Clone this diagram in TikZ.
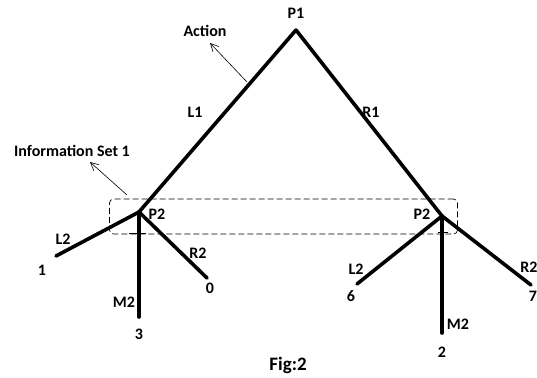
\documentclass[tikz,border=0pt]{standalone}
\usepackage{fontspec}
\setmainfont{Carlito}
\usetikzlibrary{arrows.meta}
\begin{document}
\begin{tikzpicture}[x=1pt,y=-1pt,
  branch/.style={line width=3.6pt,line cap=round,line join=miter},
  lbl/.style={font=\fontsize{16}{18}\selectfont\bfseries,inner sep=0pt},
  pointer/.style={line width=0.6pt,-{Straight Barb[length=8pt,width=8pt]}},
  infobox/.style={dashed,line width=0.7pt,rounded corners=4pt,dash pattern=on 6pt off 3pt},
  tick/.style={line width=0.8pt}]
\useasboundingbox (0,0) rectangle (537,377);
% nodes (decision points and ends)
\coordinate (p1) at (296,30);
\coordinate (pa) at (139,212);
\coordinate (pb) at (442,216);
\coordinate (a1) at (56,256);
\coordinate (a3) at (139,317);
\coordinate (a0) at (207,278);
\coordinate (b6) at (357,284);
\coordinate (b2) at (442,333);
\coordinate (b7) at (531,285);
% info set box
\node[infobox,draw,minimum width=348pt,minimum height=35pt,inner sep=0pt] (box) at (283.5,216.5) {};
\draw[tick] (129,233) -- (146,233);
\draw[tick] (438,232) -- (448,232);
% branches
\draw[branch] (p1) -- (pa);
\draw[branch] (p1) -- (pb);
\draw[branch] (pa) -- (a1);
\draw[branch] (pa) -- (a3);
\draw[branch] (pa) -- (a0);
\draw[branch] (pb) -- (b6);
\draw[branch] (pb) -- (b2);
\draw[branch] (pb) -- (b7);
% labels
\node[lbl] (tP1) at (296,13) {P1};
\node[lbl] (tAct) at (205,31) {Action};
\node[lbl] (tL1) at (195,112) {L1};
\node[lbl] (tR1) at (371,112) {R1};
\node[lbl] (tInfo) at (72,151) {Information Set 1};
\node[lbl] (tPa) at (157,214) {P2};
\node[lbl] (tPb) at (422,214) {P2};
\node[lbl] (tL2a) at (63,239) {L2};
\node[lbl] (tR2a) at (198,253) {R2};
\node[lbl] (tM2a) at (124,302) {M2};
\node[lbl] (t1) at (42,270) {1};
\node[lbl] (t0) at (210,288) {0};
\node[lbl] (t3) at (139,334) {3};
\node[lbl] (tL2b) at (356,269) {L2};
\node[lbl] (tR2b) at (529,267) {R2};
\node[lbl] (tM2b) at (458,324) {M2};
\node[lbl] (t6) at (351,296) {6};
\node[lbl] (t2) at (442,352) {2};
\node[lbl] (t7) at (533,296) {7};
\node[lbl,font=\fontsize{19}{21}\selectfont\bfseries] (tFig) at (288,365) {Fig:2};
% pointers
\coordinate (actfoot) at (247,82);
\coordinate (infofoot) at (127,195);
\draw[pointer] (actfoot) -- (210,43);
\draw[pointer] (infofoot) -- (90,162);
\end{tikzpicture}
\end{document}
